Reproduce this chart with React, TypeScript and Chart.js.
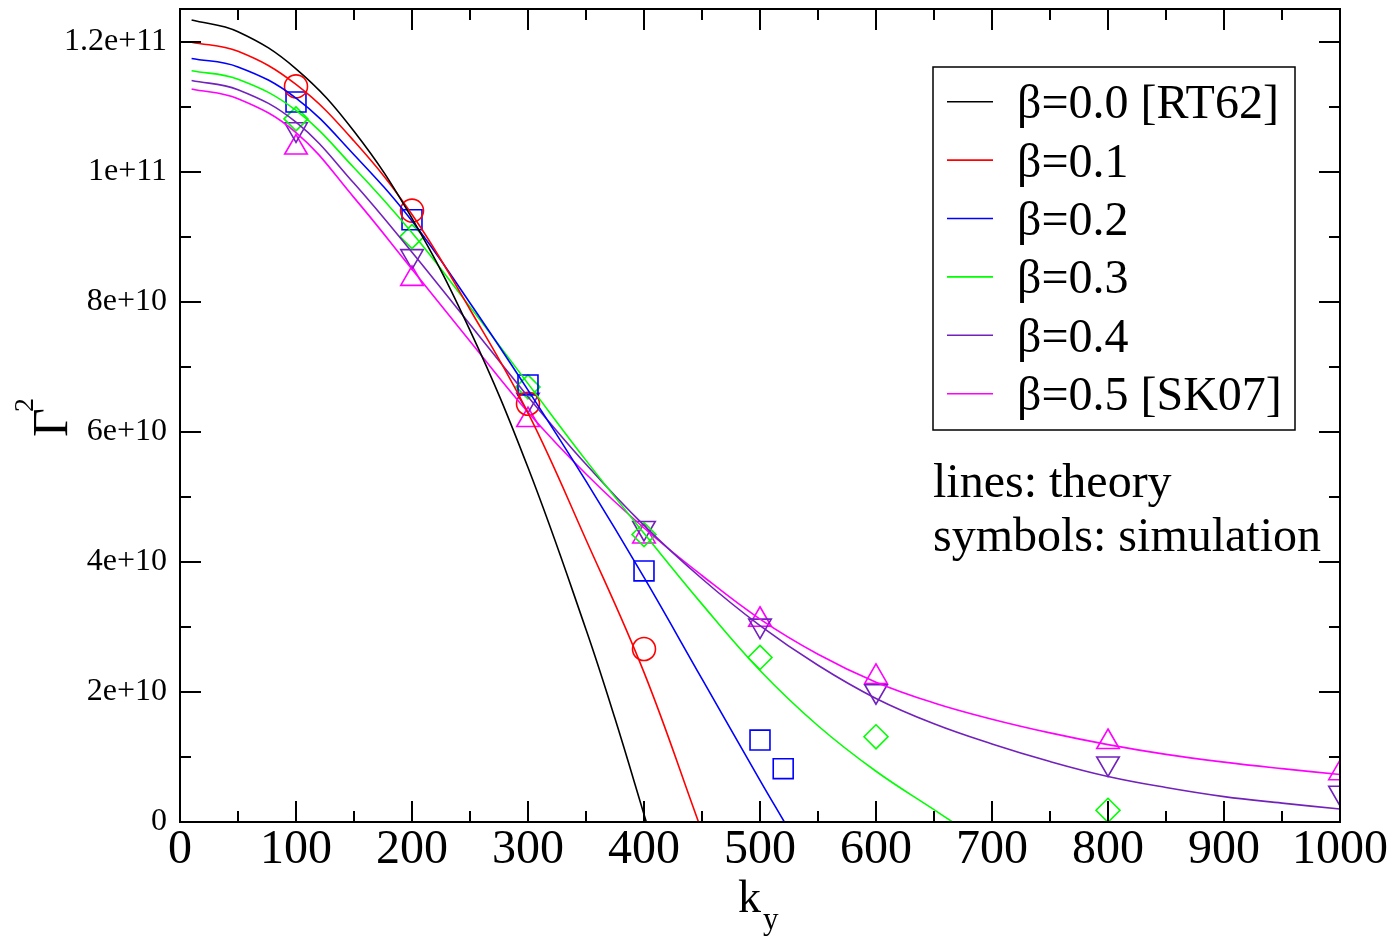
import React, { useEffect, useRef } from "react";
import { Chart, registerables } from "chart.js";

Chart.register(...registerables);

// ---------- theory curves (k_y, Gamma^2 in units of 1e9) ----------
const kBeta00 = [10, 50, 100, 150, 200, 250, 300, 350, 375, 402];
const gBeta00 = [123.3, 121.5, 115.8, 106.2, 92.8, 75.6, 54.5, 29.6, 15.9, 0];

const kBeta01 = [10, 50, 100, 150, 200, 250, 300, 350, 400, 447];
const gBeta01 = [119.9, 118.5, 113.4, 104.7, 93.4, 78.8, 62.9, 43.4, 23.0, 0];

const kBeta02 = [10, 50, 100, 150, 200, 250, 300, 350, 400, 450, 500, 521];
const gBeta02 = [117.4, 116.1, 111.3, 102.6, 92.4, 79.8, 66.4, 52.4, 37.6, 22.0, 6.4, 0];

const kBeta03 = [10, 50, 100, 150, 200, 250, 300, 350, 400, 450, 500, 550, 600, 650, 666];
const gBeta03 = [115.5, 114.2, 109.4, 100.6, 90.6, 79.2, 67.4, 55.6, 44.4, 33.5, 23.3, 14.8, 7.8, 1.9, 0];

const kBeta04 = [10, 50, 100, 150, 200, 250, 300, 350, 400, 450, 500, 550, 600, 650, 700, 750, 800, 850, 900, 950, 1000];
const gBeta04 = [114.0, 112.6, 107.6, 98.2, 87.6, 76.5, 65.4, 55.0, 45.6, 37.4, 30.2, 24.1, 19.0, 15.1, 12.0, 9.3, 7.0, 5.3, 3.9, 2.9, 2.0];

const kBeta05 = [10, 50, 100, 150, 200, 250, 300, 350, 400, 450, 500, 550, 600, 650, 700, 750, 800, 850, 900, 950, 1000];
const gBeta05 = [112.7, 111.2, 106.0, 96.0, 85.0, 73.9, 63.0, 53.5, 45.2, 37.9, 31.2, 25.8, 21.5, 18.3, 15.8, 13.7, 11.9, 10.4, 9.2, 8.2, 7.3];

// ---------- simulation points (k_y, Gamma^2 in units of 1e9) ----------
const kSim01 = [100, 200, 300, 400];
const gSim01 = [113.1, 94.0, 64.3, 26.6];

const kSim02 = [100, 200, 300, 400, 500, 520];
const gSim02 = [110.7, 92.6, 67.2, 38.6, 12.6, 8.2];

const kSim03 = [100, 200, 300, 400, 500, 600, 800];
const gSim03 = [108.1, 90.0, 66.9, 44.2, 25.3, 13.1, 1.8];

const kSim04 = [100, 200, 300, 400, 500, 600, 800, 1000];
const gSim04 = [106.5, 87.0, 64.9, 45.2, 30.2, 20.1, 9.0, 4.5];

const kSim05 = [100, 200, 300, 400, 500, 600, 800, 1000];
const gSim05 = [103.7, 83.5, 61.8, 43.9, 31.1, 22.3, 12.3, 7.5];

// ---------- tick labels ----------
const xTickValues = [0, 100, 200, 300, 400, 500, 600, 700, 800, 900, 1000];
const xTickLabels = ["0", "100", "200", "300", "400", "500", "600", "700", "800", "900", "1000"];
const yTickValues = [0, 2e10, 4e10, 6e10, 8e10, 1e11, 1.2e11];
const yTickLabels = ["0", "2e+10", "4e+10", "6e+10", "8e+10", "1e+11", "1.2e+11"];

// ---------- labels / colors ----------
const seriesLabels = ["β=0.0 [RT62]", "β=0.1", "β=0.2", "β=0.3", "β=0.4", "β=0.5 [SK07]"];
const seriesColors = ["#000000", "#ff0000", "#0000ff", "#00ff00", "#7221bc", "#ff00ff"];
const noteLines = ["lines: theory", "symbols: simulation"];
const xTitle = ["k", "y"];
const yTitle = ["Γ", "2"];

const X_MIN = 0, X_MAX = 1000, X_MINOR = 50, X_MAJOR = 100;
const Y_MIN = 0, Y_MAX = 1.25e11, Y_MINOR = 1e10;
const SCALE = 1e9;
const FONT = "'Liberation Serif', 'Times New Roman', serif";

const toPts = (ks: number[], gs: number[]) => ks.map((k, i) => ({ x: k, y: gs[i] * SCALE }));

const framePlugin = {
  id: "frame",
  afterDatasetsDraw(chart: any) {
    const { ctx, chartArea: a, scales } = chart;
    const xs = scales.x, ys = scales.y;
    ctx.save();
    ctx.strokeStyle = "#000";
    ctx.lineWidth = 2;
    ctx.lineCap = "butt";
    ctx.beginPath();
    for (let v = X_MIN; v <= X_MAX + 1e-9; v += X_MINOR) {
      const len = Math.abs(v % X_MAJOR) < 1e-9 ? 21 : 11;
      const p = Math.round(xs.getPixelForValue(v));
      ctx.moveTo(p, a.bottom); ctx.lineTo(p, a.bottom - len);
      ctx.moveTo(p, a.top); ctx.lineTo(p, a.top + len);
    }
    for (let i = 0; Y_MIN + i * Y_MINOR <= Y_MAX + 1; i++) {
      const v = Y_MIN + i * Y_MINOR;
      const len = i % 2 === 0 ? 21 : 11;
      const p = Math.round(ys.getPixelForValue(v));
      ctx.moveTo(a.left, p); ctx.lineTo(a.left + len, p);
      ctx.moveTo(a.right, p); ctx.lineTo(a.right - len, p);
    }
    ctx.stroke();
    ctx.strokeRect(a.left, a.top, a.right - a.left, a.bottom - a.top);

    // legend box
    const bx = 933, by = 67, bw = 362, bh = 363;
    ctx.fillStyle = "#fff";
    ctx.fillRect(bx, by, bw, bh);
    ctx.lineWidth = 1.5;
    ctx.strokeRect(bx, by, bw, bh);
    ctx.font = `48px ${FONT}`;
    ctx.textBaseline = "alphabetic";
    ctx.textAlign = "left";
    for (let i = 0; i < seriesLabels.length; i++) {
      const ly = 101.7 + i * 58.4;
      ctx.strokeStyle = seriesColors[i];
      ctx.lineWidth = 1.6;
      ctx.beginPath();
      ctx.moveTo(947, ly); ctx.lineTo(993, ly);
      ctx.stroke();
      ctx.fillStyle = "#000";
      ctx.fillText(seriesLabels[i], 1017, ly + 16.5);
    }
    ctx.fillText(noteLines[0], 933, 497);
    ctx.fillText(noteLines[1], 933, 551);

    // x title k_y
    const cx = (a.left + a.right) / 2;
    ctx.font = `46px ${FONT}`;
    ctx.fillText(xTitle[0], cx - 22, 912);
    ctx.font = `31px ${FONT}`;
    ctx.fillText(xTitle[1], cx + 3, 929);

    // y title Gamma^2 rotated
    ctx.save();
    ctx.translate(67, 437);
    ctx.rotate(-Math.PI / 2);
    ctx.font = `50px ${FONT}`;
    ctx.fillText(yTitle[0], 0, 0);
    ctx.font = `28px ${FONT}`;
    ctx.fillText(yTitle[1], 25, -34);
    ctx.restore();

    ctx.restore();
  },
};

export default function App() {
  const ref = useRef<HTMLCanvasElement | null>(null);
  useEffect(() => {
    if (!ref.current) return;
    const theory: [number[], number[]][] = [
      [kBeta00, gBeta00],
      [kBeta01, gBeta01],
      [kBeta02, gBeta02],
      [kBeta03, gBeta03],
      [kBeta04, gBeta04],
      [kBeta05, gBeta05],
    ];
    const lineSets = theory.map(([ks, gs], i) => ({
      label: seriesLabels[i],
      data: toPts(ks, gs),
      showLine: true,
      borderColor: seriesColors[i],
      backgroundColor: seriesColors[i],
      borderWidth: 1.6,
      pointRadius: 0,
      fill: false,
      tension: 0.4,
    }));
    const sims: [number[], number[], number, string, number, number][] = [
      [kSim01, gSim01, 1, "circle", 11.5, 0],
      [kSim02, gSim02, 2, "rect", 14.1, 0],
      [kSim03, gSim03, 3, "rectRot", 12, 0],
      [kSim04, gSim04, 4, "triangle", 13, 180],
      [kSim05, gSim05, 5, "triangle", 13, 0],
    ];
    const symSets = sims.map(([ks, gs, ci, style, r, rot]) => ({
      label: seriesLabels[ci] + " sim",
      data: toPts(ks, gs),
      showLine: false,
      borderColor: seriesColors[ci],
      backgroundColor: "rgba(0,0,0,0)",
      pointBorderWidth: 1.6,
      pointStyle: style,
      pointRadius: r,
      pointRotation: rot,
    }));
    const chart = new Chart(ref.current, {
      type: "scatter",
      data: { datasets: [...lineSets, ...symSets] as any },
      options: {
        animation: false,
        responsive: false,
        devicePixelRatio: 1,
        layout: { autoPadding: false, padding: { top: 9, right: 57, left: 0, bottom: 0 } },
        plugins: { legend: { display: false }, tooltip: { enabled: false } },
        scales: {
          x: {
            type: "linear",
            min: X_MIN,
            max: X_MAX,
            grid: { display: false, drawTicks: false },
            border: { display: false },
            afterBuildTicks: (s: any) => { s.ticks = xTickValues.map((v) => ({ value: v })); },
            ticks: {
              autoSkip: false,
              maxRotation: 0,
              padding: 0,
              color: "#000",
              font: { family: FONT, size: 48 },
              callback: (v: any) => xTickLabels[xTickValues.indexOf(Number(v))] ?? String(v),
            },
            afterFit: (s: any) => { s.height = 118; s.paddingLeft = 0; s.paddingRight = 0; },
          },
          y: {
            type: "linear",
            min: Y_MIN,
            max: Y_MAX,
            grid: { display: false, drawTicks: false },
            border: { display: false },
            afterBuildTicks: (s: any) => { s.ticks = yTickValues.map((v) => ({ value: v })); },
            ticks: {
              autoSkip: false,
              padding: 13,
              color: "#000",
              font: { family: FONT, size: 32 },
              callback: (v: any) => yTickLabels[yTickValues.indexOf(Number(v))] ?? String(v),
            },
            afterFit: (s: any) => { s.width = 180; s.paddingTop = 0; s.paddingBottom = 0; },
          },
        },
      } as any,
      plugins: [framePlugin],
    });
    return () => chart.destroy();
  }, []);
  return (
    <div style={{ position: "absolute", left: 0, top: 0, width: 1397, height: 940, background: "#fff" }}>
      <canvas ref={ref} width={1397} height={940} style={{ width: 1397, height: 940 }} />
    </div>
  );
}
